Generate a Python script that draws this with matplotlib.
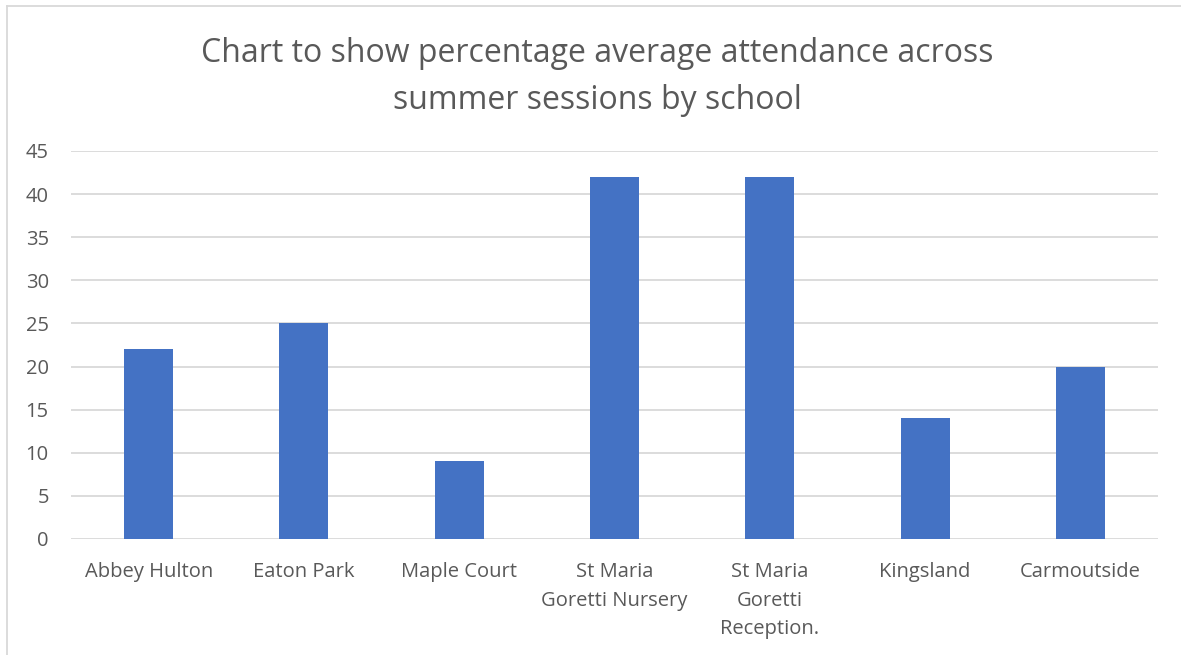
import matplotlib.pyplot as plt
from matplotlib.lines import Line2D

schools = ["Abbey Hulton", "Eaton Park", "Maple Court", "St Maria\nGoretti Nursery",
           "St Maria\nGoretti\nReception.", "Kingsland", "Carmoutside"]
attendance = [22, 25, 9, 42, 42, 14, 20]
yticks = [0, 5, 10, 15, 20, 25, 30, 35, 40, 45]

plt.rcParams['font.family'] = ['Open Sans', 'DejaVu Sans']
text_col = '#595959'
grid_col = '#d9d9d9'

fig = plt.figure(figsize=(11.81, 6.55), dpi=100)
W, H = 1181, 655
ax = fig.add_axes([71 / W, 1 - 539 / H, (1158 - 71) / W, (539 - 151) / H])

x = range(len(schools))
ax.bar(x, attendance, width=0.316, color='#4472c4', zorder=3)

ax.set_xlim(-0.5, len(schools) - 0.5)
ax.set_ylim(0, 45)
ax.set_yticks(yticks)
ax.set_xticks(list(x))
ax.set_xticklabels(schools, fontsize=14.5, color=text_col, linespacing=1.58)
ax.tick_params(axis='y', labelsize=14.5, labelcolor=text_col, length=0, pad=16)
ax.tick_params(axis='x', length=0, pad=16.5)
ax.grid(axis='y', color=grid_col, linewidth=1.3, zorder=0)
for s in ax.spines.values():
    s.set_visible(False)

fig.text(597 / W, 1 - 77 / H,
         "Chart to show percentage average attendance across\nsummer sessions by school",
         ha='center', va='center', fontsize=23, color=text_col,
         linespacing=1.55)

# chart frame
fig.add_artist(Line2D([7 / W, 7 / W], [0, 1 - 6 / H], color=grid_col, linewidth=1.3))
fig.add_artist(Line2D([7 / W, 1], [1 - 6 / H, 1 - 6 / H], color=grid_col, linewidth=1.3))

fig.savefig("out.png", dpi=100)
